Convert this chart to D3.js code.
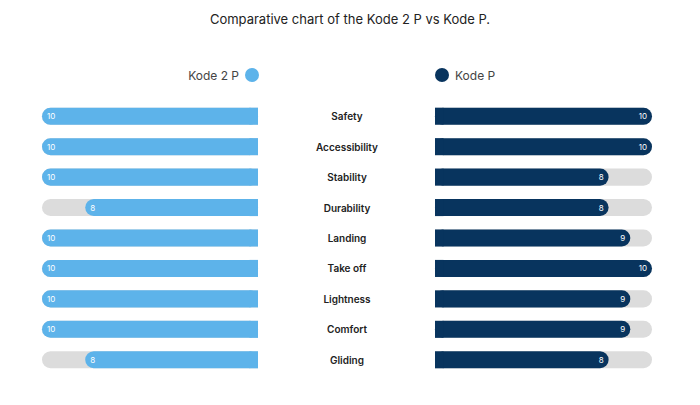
<!DOCTYPE html><html><head><script src="https://cdn.jsdelivr.net/npm/d3@7"></script>
<style>body{margin:0;background:#fff}</style></head><body><svg id="c" width="700" height="405"></svg>
<script>
const categories=["Safety","Accessibility","Stability","Durability","Landing","Take off","Lightness","Comfort","Gliding"];
const kode2p=[10,10,10,8,10,10,10,10,8];
const kodep=[10,10,8,8,9,10,9,9,8];
const svg=d3.select("#c"),F="Inter, 'Open Sans', sans-serif";
const y=d3.scaleBand().domain(categories).range([101,375]).paddingInner(0.44).paddingOuter(0.22);
const h=y.bandwidth(),r=h/2;
const xl=d3.scaleLinear().domain([0,10]).range([258,42]);
const xr=d3.scaleLinear().domain([0,10]).range([435,652]);
svg.append("text").attr("x",350).attr("y",24).attr("text-anchor","middle").attr("font-family",F).attr("font-size",13).attr("fill","#222").text("Comparative chart of the Kode 2 P vs Kode P.");
svg.append("circle").attr("cx",252).attr("cy",75).attr("r",7).attr("fill","#5db3ea");
svg.append("text").attr("x",239).attr("y",79.5).attr("text-anchor","end").attr("font-family",F).attr("font-size",12).attr("fill","#444").text("Kode 2 P");
svg.append("circle").attr("cx",442).attr("cy",75).attr("r",7).attr("fill","#08345e");
svg.append("text").attr("x",455).attr("y",79.5).attr("font-family",F).attr("font-size",12).attr("fill","#444").text("Kode P");
function side(vals,x,col,left){
  const g=svg.append("g");
  categories.forEach((c,i)=>{
    const y0=y(c),a=x(0),e=x(10),v=x(vals[i]);
    const lo=Math.min(a,e),hi=Math.max(a,e);
    g.append("rect").attr("x",lo).attr("y",y0).attr("width",hi-lo).attr("height",h).attr("rx",r).attr("fill","#dcdcdc");
    g.append("rect").attr("x",left?hi-r:lo).attr("y",y0).attr("width",r).attr("height",h).attr("fill","#dcdcdc");
    const vl=Math.min(a,v),vh=Math.max(a,v);
    g.append("rect").attr("x",vl).attr("y",y0).attr("width",vh-vl).attr("height",h).attr("rx",r).attr("fill",col);
    g.append("rect").attr("x",left?vh-r:vl).attr("y",y0).attr("width",r).attr("height",h).attr("fill",col);
    g.append("text").attr("x",left?v+5:v-5).attr("y",y0+h/2+3).attr("text-anchor",left?"start":"end").attr("font-family",F).attr("font-size",8).attr("fill","#fff").text(vals[i]);
  });
}
side(kode2p,xl,"#5db3ea",true);
side(kodep,xr,"#08345e",false);
svg.append("g").selectAll("text").data(categories).join("text").attr("x",347).attr("y",d=>y(d)+h/2+4).attr("text-anchor","middle").attr("font-family",F).attr("font-size",10).attr("font-weight",600).attr("fill","#222").text(d=>d);
</script></body></html>
